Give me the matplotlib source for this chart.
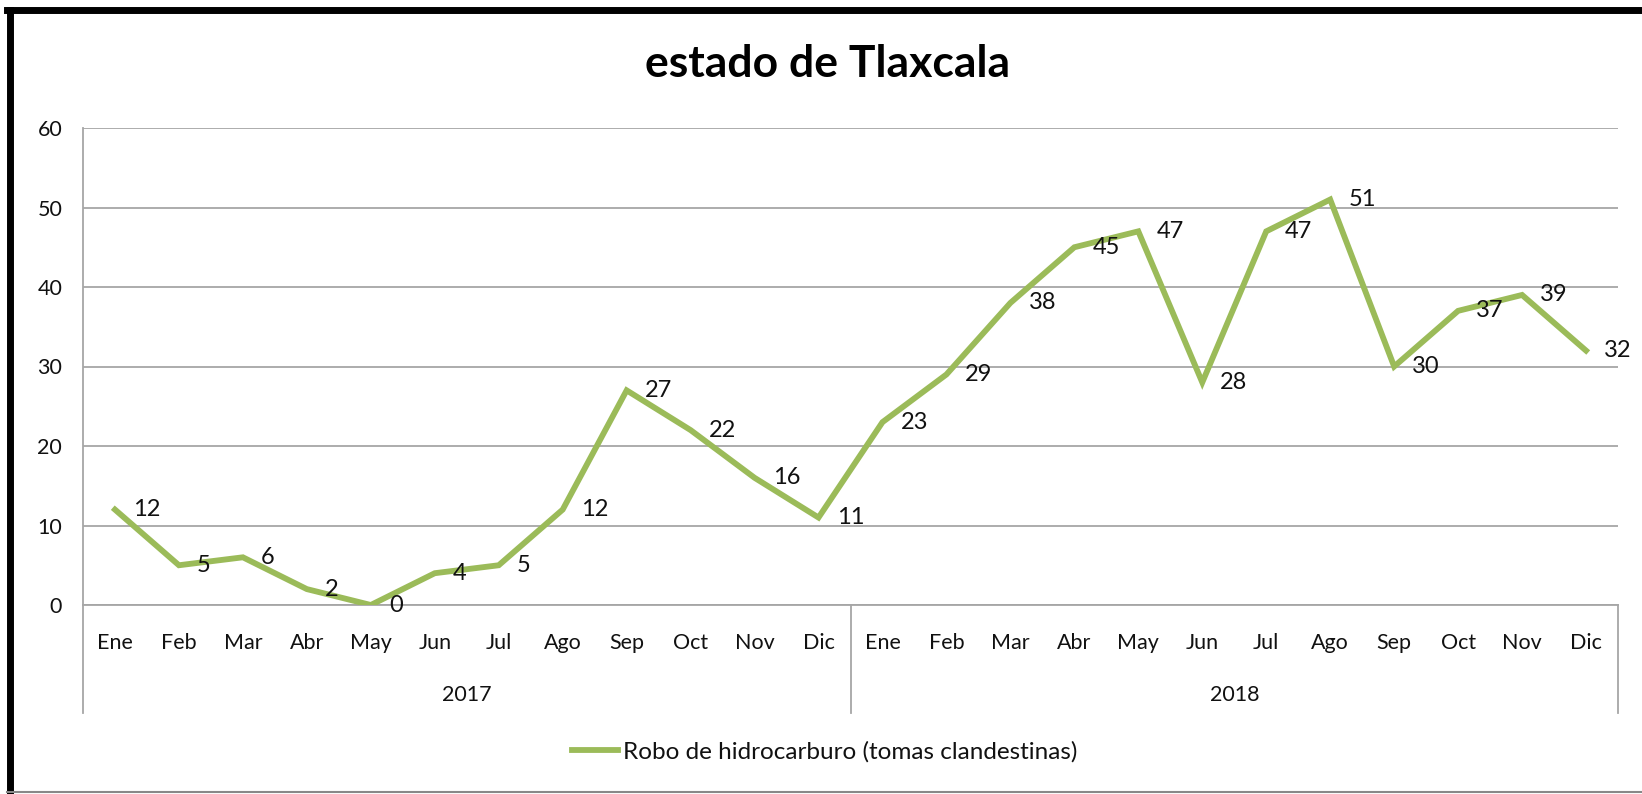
import matplotlib.pyplot as plt
from matplotlib.lines import Line2D

# data
meses = ["Ene", "Feb", "Mar", "Abr", "May", "Jun", "Jul", "Ago", "Sep", "Oct", "Nov", "Dic"]
anios = ["2017", "2018"]
valores = [12, 5, 6, 2, 0, 4, 5, 12, 27, 22, 16, 11,
           23, 29, 38, 45, 47, 28, 47, 51, 30, 37, 39, 32]
serie = "Robo de hidrocarburo (tomas clandestinas)"
titulo = "estado de Tlaxcala"

plt.rcParams['font.family'] = ['Lato', 'DejaVu Sans']
W, H = 1642, 794
verde = '#9BBB59'
gris = '#A6A6A6'
texto = '#111111'

fig = plt.figure(figsize=(W / 100, H / 100), dpi=100)
ax = fig.add_axes([83 / W, 1 - 605 / H, (1618 - 83) / W, (605 - 128) / H])

etiquetas = meses * len(anios)
x = list(range(len(valores)))
ax.plot(x, valores, color=verde, lw=4.2, solid_joinstyle='miter', label=serie, zorder=3)

# data labels to the right of each point
for xi, v in zip(x, valores):
    ax.annotate(str(v), (xi, v), xytext=(13, 0), textcoords='offset points',
                ha='left', va='center', fontsize=17, color=texto, zorder=4)

ax.set_xlim(-0.5, len(valores) - 0.5)
ax.set_ylim(0, 60)
ax.set_yticks(range(0, 61, 10))
ax.yaxis.grid(True, color=gris, lw=1.3)
ax.set_axisbelow(True)
ax.tick_params(axis='y', length=0, pad=15, labelsize=15.5, labelcolor=texto)
ax.set_xticks(x)
ax.set_xticklabels(etiquetas)
ax.tick_params(axis='x', length=0, pad=20, labelsize=15.5, labelcolor=texto)
for s in ['top', 'right']:
    ax.spines[s].set_visible(False)
for s in ['left', 'bottom']:
    ax.spines[s].set_color(gris)
    ax.spines[s].set_linewidth(1.3)

# multi-level category axis: separators and year labels
trans = ax.get_xaxis_transform()
fondo = -(713 - 605) / (605 - 128)
for b in [-0.5, 11.5, 23.5]:
    ax.add_line(Line2D([b, b], [0, fondo], transform=trans, color=gris, lw=1.3, clip_on=False))
for i, a in enumerate(anios):
    ax.text(5.5 + 12 * i, -(695 - 605) / (605 - 128), a, transform=trans,
            ha='center', va='center', fontsize=15.5, color=texto)

fig.text(828 / W, 1 - 64 / H, titulo, ha='center', va='center',
         fontsize=32, fontweight='bold', color='black')

fig.legend(loc='center left', bbox_to_anchor=(550 / W, 1 - 752 / H), frameon=False,
           fontsize=17.5, handlelength=1.9, handletextpad=0.2, labelcolor=texto)

# outer frame of the original picture
fig.add_artist(Line2D([10 / W, 10 / W], [0, 1 - 10 / H], color='black', lw=5))
fig.add_artist(Line2D([7 / W, 1], [1 - 10 / H, 1 - 10 / H], color='black', lw=5))
fig.add_artist(Line2D([7 / W, 1], [2 / H, 2 / H], color='#888888', lw=1.5))

fig.savefig('out.png', dpi=100)
